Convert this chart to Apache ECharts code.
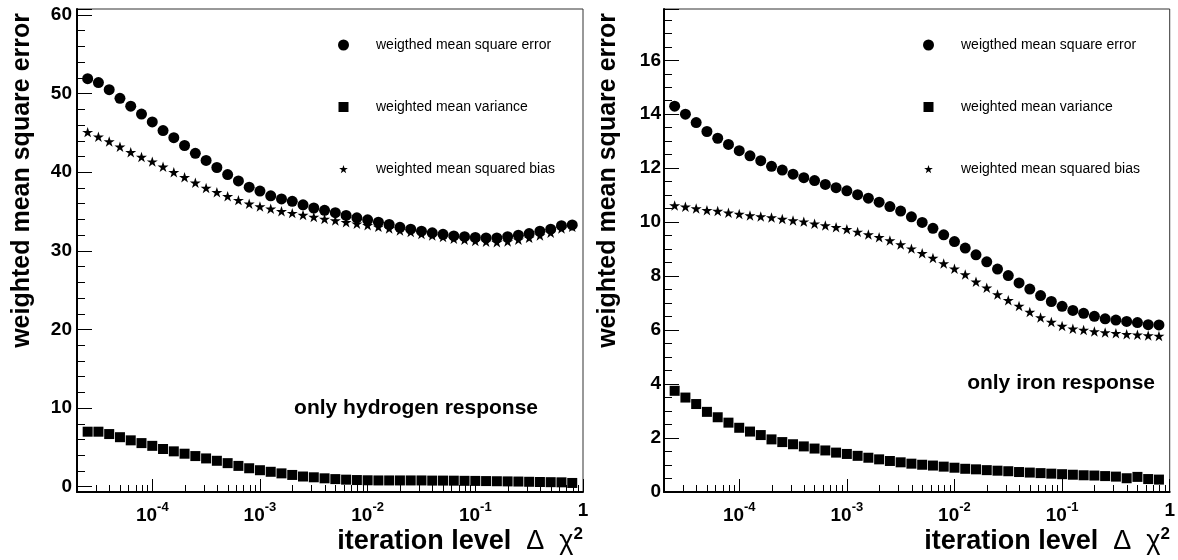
<!DOCTYPE html>
<html>
<head>
<meta charset="utf-8">
<script src="https://cdn.jsdelivr.net/npm/echarts@6/dist/echarts.min.js"></script>
<style>
  html, body { margin: 0; padding: 0; background: #fff; }
  #chart { width: 1178px; height: 560px; }
</style>
</head>
<body>
<div id="chart"></div>
<script>
// Iteration levels (Δχ² stopping threshold), ten steps per decade
const iterationLevels = [
  2.512e-5, 3.162e-5, 3.981e-5, 5.012e-5, 6.310e-5, 7.943e-5,
  1.000e-4, 1.259e-4, 1.585e-4, 1.995e-4, 2.512e-4, 3.162e-4, 3.981e-4, 5.012e-4, 6.310e-4, 7.943e-4,
  1.000e-3, 1.259e-3, 1.585e-3, 1.995e-3, 2.512e-3, 3.162e-3, 3.981e-3, 5.012e-3, 6.310e-3, 7.943e-3,
  1.000e-2, 1.259e-2, 1.585e-2, 1.995e-2, 2.512e-2, 3.162e-2, 3.981e-2, 5.012e-2, 6.310e-2, 7.943e-2,
  1.000e-1, 1.259e-1, 1.585e-1, 1.995e-1, 2.512e-1, 3.162e-1, 3.981e-1, 5.012e-1, 6.310e-1, 7.943e-1
];

// Hydrogen-only response
const hydrogenMSE = [
  51.9, 51.4, 50.5, 49.4, 48.4, 47.4, 46.4, 45.3, 44.4, 43.4,
  42.4, 41.5, 40.6, 39.7, 38.9, 38.1, 37.6, 37.0, 36.6, 36.3,
  35.85, 35.45, 35.15, 34.85, 34.5, 34.2, 33.95, 33.65, 33.35, 33.0,
  32.75, 32.5, 32.3, 32.1, 31.9, 31.8, 31.7, 31.65, 31.65, 31.8,
  32.0, 32.2, 32.5, 32.75, 33.2, 33.3
];
const hydrogenVariance = [
  7.0, 7.0, 6.7, 6.3, 5.9, 5.55, 5.2, 4.8, 4.5, 4.2,
  3.9, 3.6, 3.3, 3.0, 2.65, 2.35, 2.1, 1.9, 1.7, 1.5,
  1.3, 1.2, 1.07, 0.97, 0.9, 0.85, 0.82, 0.8, 0.8, 0.8,
  0.8, 0.8, 0.78, 0.78, 0.77, 0.75, 0.74, 0.72, 0.7, 0.68,
  0.66, 0.63, 0.6, 0.58, 0.56, 0.48
];
const hydrogenBias = [
  45.1, 44.5, 43.9, 43.25, 42.55, 41.95, 41.35, 40.7, 40.0, 39.35,
  38.65, 38.0, 37.45, 36.95, 36.45, 36.0, 35.65, 35.35, 35.05, 34.8,
  34.55, 34.3, 34.05, 33.85, 33.65, 33.45, 33.25, 33.05, 32.85, 32.6,
  32.4, 32.15, 31.95, 31.75, 31.55, 31.4, 31.25, 31.15, 31.1, 31.2,
  31.4, 31.65, 31.95, 32.3, 32.85, 33.05
];

// Iron-only response
const ironMSE = [
  14.3, 14.0, 13.69, 13.36, 13.11, 12.88, 12.65, 12.46, 12.28, 12.07,
  11.93, 11.78, 11.65, 11.54, 11.40, 11.28, 11.16, 11.02, 10.89, 10.74,
  10.58, 10.41, 10.20, 9.99, 9.77, 9.53, 9.28, 9.04, 8.79, 8.53,
  8.26, 8.02, 7.75, 7.52, 7.28, 7.06, 6.88, 6.73, 6.62, 6.51,
  6.42, 6.37, 6.32, 6.28, 6.20, 6.19
];
const ironVariance = [
  3.75, 3.5, 3.26, 2.97, 2.77, 2.57, 2.38, 2.24, 2.11, 1.95,
  1.85, 1.77, 1.69, 1.61, 1.54, 1.46, 1.41, 1.34, 1.27, 1.21,
  1.15, 1.10, 1.05, 1.01, 0.98, 0.94, 0.90, 0.86, 0.84, 0.81,
  0.79, 0.77, 0.74, 0.72, 0.70, 0.68, 0.66, 0.64, 0.62, 0.61,
  0.59, 0.57, 0.51, 0.56, 0.48, 0.46
];
const ironBias = [
  10.62, 10.57, 10.51, 10.44, 10.41, 10.35, 10.30, 10.25, 10.21, 10.17,
  10.12, 10.06, 10.02, 9.94, 9.88, 9.81, 9.74, 9.64, 9.54, 9.44,
  9.32, 9.17, 9.02, 8.85, 8.67, 8.47, 8.27, 8.06, 7.79, 7.57,
  7.32, 7.11, 6.89, 6.67, 6.47, 6.30, 6.15, 6.05, 6.00, 5.95,
  5.91, 5.88, 5.85, 5.83, 5.80, 5.78
];

// Legend entries (the first spelling is as printed on the plot)
const seriesNames = [
  'weigthed mean square error',
  'weighted mean variance',
  'weighted mean squared bias'
];
const panelLabels = ['only hydrogen response', 'only iron response'];

// Axis ranges
const xRange = [2e-5, 1];
const yRangeH = [-0.67, 60.76];
const yRangeFe = [0, 17.9];

// Minor tick positions on the logarithmic axis (2..9 per decade)
const minorMantissas = [2, 3, 4, 5, 6, 7, 8, 9];
const minorDecades = [1e-5, 1e-4, 1e-3, 1e-2, 1e-1];

const FONT = '"Liberation Sans", Arial, Helvetica, sans-serif';
const STAR = 'path://M50,0L61.23,34.55L97.55,34.55L68.16,55.9L79.39,90.45L50,69.1L20.61,90.45L31.84,55.9L2.45,34.55L38.77,34.55Z';
const STAR_SMALL = 'path://M-10,-15M110,105M50,0L61.23,34.55L97.55,34.55L68.16,55.9L79.39,90.45L50,69.1L20.61,90.45L31.84,55.9L2.45,34.55L38.77,34.55Z';

const minorTicks = [];
minorDecades.forEach(d => minorMantissas.forEach(m => {
  const v = +(m * d).toPrecision(3);
  if (v > xRange[0] && v < xRange[1]) minorTicks.push(v);
}));

const grids = [
  { left: 77, top: 9, width: 506, height: 483 },
  { left: 664, top: 9, width: 506, height: 483 }
];

function pairs(xs, ys) { return xs.map((x, i) => [x, ys[i]]); }

function xAxisFor(idx) {
  return {
    gridIndex: idx, type: 'log', logBase: 10, min: xRange[0], max: xRange[1],
    axisLine: { show: true, onZero: false, lineStyle: { color: '#000', width: 2 } },
    axisTick: { show: true, inside: true, length: 13, lineStyle: { color: '#000', width: 1 } },
    splitLine: { show: false },
    axisLabel: {
      margin: 9, showMinLabel: false, color: '#000',
      formatter: v => {
        const e = Math.round(Math.log10(v));
        return e === 0 ? '{b|1}' : '{b|10}{s|' + e + '}';
      },
      rich: {
        b: { fontFamily: FONT, fontWeight: 'bold', fontSize: 19, color: '#000' },
        s: { fontFamily: FONT, fontWeight: 'bold', fontSize: 13, color: '#000', padding: [0, 0, 16, 0] }
      }
    }
  };
}

function yAxisFor(idx, range, step, minorSplit, margin) {
  return {
    gridIndex: idx, type: 'value', min: range[0], max: range[1],
    minInterval: step, maxInterval: step,
    axisLine: { show: true, onZero: false, lineStyle: { color: '#000', width: 2 } },
    axisTick: { show: true, inside: true, length: 15, lineStyle: { color: '#000', width: 1 } },
    minorTick: { show: true, splitNumber: minorSplit, length: 8, lineStyle: { color: '#000', width: 1 } },
    splitLine: { show: false },
    axisLabel: {
      margin: margin, showMinLabel: range[0] === 0, showMaxLabel: false,
      fontFamily: FONT, fontWeight: 'bold', fontSize: 19, color: '#000'
    }
  };
}

function panelSeries(idx, mse, variance, bias) {
  const common = { type: 'scatter', xAxisIndex: idx, yAxisIndex: idx, silent: true,
                   itemStyle: { color: '#000', opacity: 1 }, emphasis: { disabled: true } };
  return [
    Object.assign({ name: seriesNames[0], symbol: 'circle', symbolSize: 11, data: pairs(iterationLevels, mse) }, common),
    Object.assign({ name: seriesNames[1], symbol: 'rect', symbolSize: 10, data: pairs(iterationLevels, variance) }, common),
    Object.assign({ name: seriesNames[2], symbol: STAR, symbolSize: 11, symbolKeepAspect: true, data: pairs(iterationLevels, bias) }, common)
  ];
}

function minorTickSeries(idx, yMin) {
  return {
    type: 'custom', xAxisIndex: idx, yAxisIndex: idx, silent: true, clip: false, z: 1,
    data: minorTicks.map(v => [v, yMin]),
    renderItem: (params, api) => {
      const p = api.coord([api.value(0), api.value(1)]);
      const x = Math.round(p[0]) + 0.5;
      return { type: 'line', shape: { x1: x, y1: p[1], x2: x, y2: p[1] - 7 },
               style: { stroke: '#000', lineWidth: 1 } };
    }
  };
}

function legendFor(left) {
  return {
    left: left, top: 38, orient: 'vertical', padding: 0, itemGap: 48,
    itemWidth: 11, itemHeight: 11, selectedMode: false,
    data: [
      { name: seriesNames[0], icon: 'circle' },
      { name: seriesNames[1], icon: 'path://M0.5,0.5H10.5V10.5H0.5Z M0,0 M11,11' },
      { name: seriesNames[2], icon: STAR_SMALL }
    ],
    textStyle: { fontFamily: FONT, fontSize: 14, color: '#000', padding: [0, 0, 0, 22] }
  };
}

function yTitle(x) {
  return {
    type: 'text', x: x, y: 13, rotation: Math.PI / 2, silent: true,
    style: { text: 'weighted mean square error', fontFamily: FONT, fontWeight: 'bold', fontSize: 25,
             fill: '#000', align: 'right', verticalAlign: 'middle' }
  };
}

function xTitle(x) {
  return {
    type: 'text', x: x, y: 542, silent: true,
    style: {
      text: '{t|iteration level}{g|  Δ  χ}{s|2}', align: 'right', verticalAlign: 'middle',
      rich: {
        t: { fontFamily: FONT, fontWeight: 'bold', fontSize: 27, fill: '#000' },
        g: { fontFamily: FONT, fontWeight: 'normal', fontSize: 27, fill: '#000' },
        s: { fontFamily: FONT, fontWeight: 'bold', fontSize: 17, fill: '#000', padding: [0, 0, 15, 0] }
      }
    }
  };
}

function panelLabel(text, x, y) {
  return {
    type: 'text', x: x, y: y, silent: true,
    style: { text: text, fontFamily: FONT, fontWeight: 'bold', fontSize: 21, fill: '#000',
             align: 'right', verticalAlign: 'middle' }
  };
}

const chart = echarts.init(document.getElementById('chart'), null, { renderer: 'canvas' });
chart.setOption({
  backgroundColor: '#fff',
  animation: false,
  grid: grids.map(g => Object.assign({ show: true, borderColor: '#333', borderWidth: 1, backgroundColor: 'transparent' }, g)),
  xAxis: [xAxisFor(0), xAxisFor(1)],
  yAxis: [yAxisFor(0, yRangeH, 10, 5, 5), yAxisFor(1, yRangeFe, 2, 4, 3)],
  legend: [legendFor(338), legendFor(923)],
  series: [
    minorTickSeries(0, yRangeH[0]),
    minorTickSeries(1, yRangeFe[0]),
    ...panelSeries(0, hydrogenMSE, hydrogenVariance, hydrogenBias),
    ...panelSeries(1, ironMSE, ironVariance, ironBias)
  ],
  graphic: [
    yTitle(22.5), yTitle(608.5),
    xTitle(583), xTitle(1170),
    panelLabel(panelLabels[0], 538, 408),
    panelLabel(panelLabels[1], 1155, 383)
  ]
});
</script>
</body>
</html>
